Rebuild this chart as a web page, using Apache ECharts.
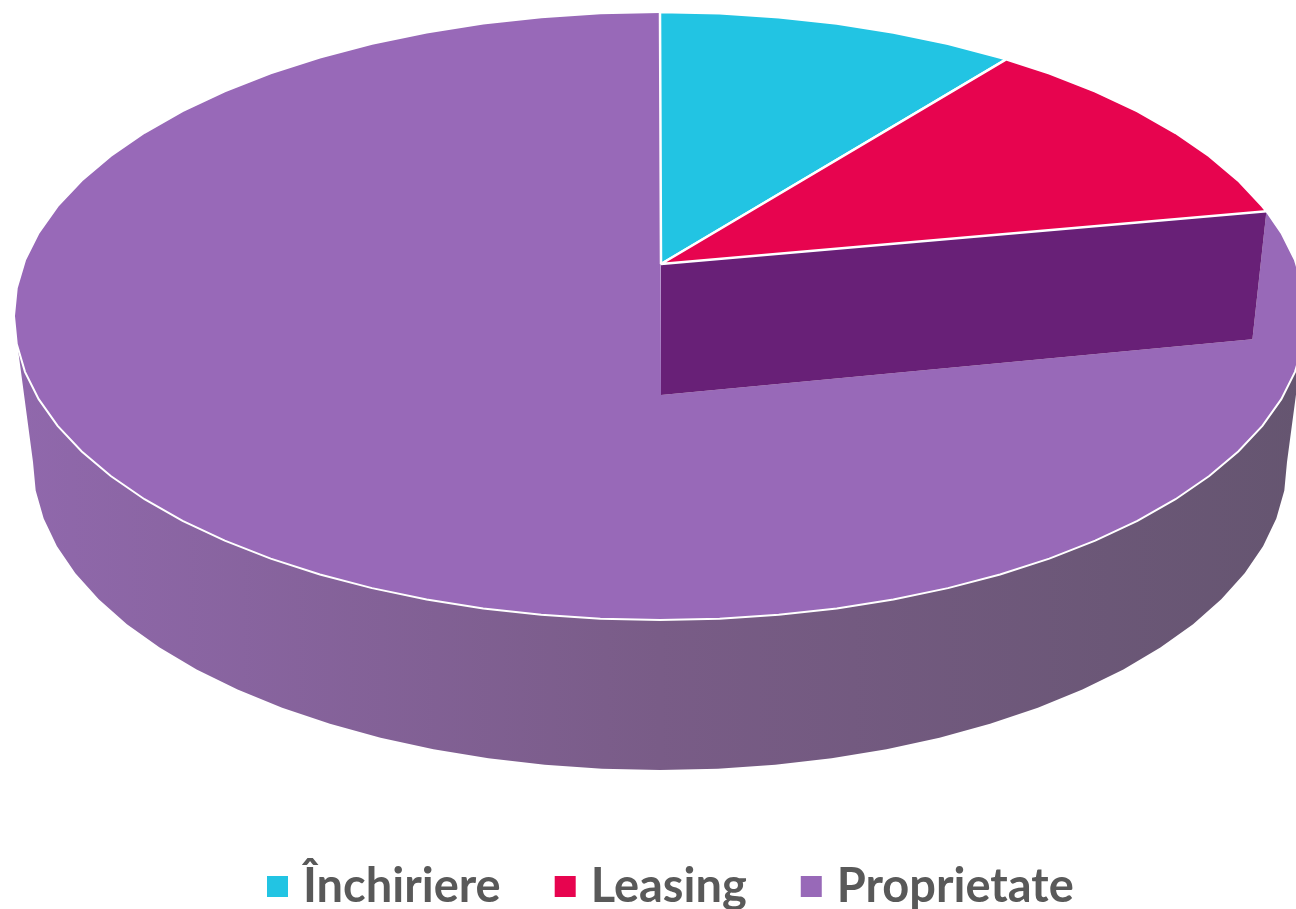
<!DOCTYPE html>
<html><head><meta charset="utf-8">
<style>html,body{margin:0;padding:0;background:#fff}#c{width:1296px;height:909px}</style>
<script src="https://cdn.jsdelivr.net/npm/echarts@6/dist/echarts.min.js"></script>
</head><body><div id="c"></div>
<script>
const categories = ['Închiriere', 'Leasing', 'Proprietate'];
const shares = [9, 10.4, 80.6];
const colors = ['#22c4e3', '#e7044f', '#9869b8'];

const top3d = {cx: 660, cy: 316, rx: 646, ry: 304};
const low3d = {cx: 660, cy: 462, rx: 627, ry: 308};
const apex = [661, 264], notchApex = [661, 395], notchShift = [-14, 128];
const FACETS = 68;

const total = shares.reduce((a, b) => a + b, 0);
const rim = (e, t) => [e.cx + e.rx * Math.sin(2 * Math.PI * t), e.cy - e.ry * Math.cos(2 * Math.PI * t)];
function arc(e, a, b) {
  const pts = [rim(e, a)];
  for (let k = Math.floor(a * FACETS) + 1; k < b * FACETS; k++) pts.push(rim(e, k / FACETS));
  pts.push(rim(e, b));
  return pts;
}
function makeRender(start, end, idx) {
  return function (params, api) {
    const c = p => api.coord(p);
    const fill = colors[idx];
    const white = {fill: 'none', stroke: '#fff', lineWidth: 2};
    const children = [];
    const edge = arc(top3d, start, end);
    if (idx < 2) {
      children.push({type: 'polygon', shape: {points: [apex, ...edge].map(c)},
        style: {fill, stroke: '#fff', lineWidth: 2.5, lineJoin: 'bevel'}});
    } else {
      const first = edge[0];
      const inner = [first[0] + notchShift[0], first[1] + notchShift[1]];
      const wallUp = arc(top3d, 0.268, 0.732);
      const wallLow = arc(low3d, 0.25, 0.75).reverse();
      children.push({type: 'polygon', shape: {points: [...wallUp, ...wallLow].map(c)},
        style: {fill: {type: 'linear', x: 0, y: 0, x2: 1, y2: 0, colorStops: [
          {offset: 0, color: '#9068ac'}, {offset: 0.5, color: '#795c87'}, {offset: 1, color: '#655570'}]}}});
      children.push({type: 'polygon', shape: {points: [...edge, notchApex, inner].map(c)}, style: {fill}});
      children.push({type: 'polygon', shape: {points: [apex, first, inner, notchApex].map(c)}, style: {fill: '#682077'}});
      children.push({type: 'polyline', shape: {points: edge.map(c)}, style: white});
    }
    return {type: 'group', children};
  };
}
let acc = 0;
const series = categories.map((name, i) => {
  const a = acc / total; acc += shares[i]; const b = acc / total;
  return {type: 'custom', name, coordinateSystem: 'cartesian2d', z: i === 2 ? 1 : 2, silent: true,
    itemStyle: {color: colors[i]}, clip: false, renderItem: makeRender(a, b, i), data: [[shares[i], shares[i]]]};
});
const chart = echarts.init(document.getElementById('c'), null, {renderer: 'canvas'});
chart.setOption({
  animation: false,
  backgroundColor: '#fff',
  grid: {left: 0, right: 0, top: 0, bottom: 0},
  xAxis: {type: 'value', min: 0, max: 1296, show: false},
  yAxis: {type: 'value', min: 0, max: 909, inverse: true, show: false},
  legend: {data: categories, top: 858, left: 262, icon: 'rect', itemWidth: 21, itemHeight: 21, itemGap: 54,
    selectedMode: false,
    textStyle: {fontFamily: 'Lato', fontWeight: 'bold', fontSize: 47, color: '#595959', padding: [0, 0, 0, 10]}},
  series
});
</script></body></html>
